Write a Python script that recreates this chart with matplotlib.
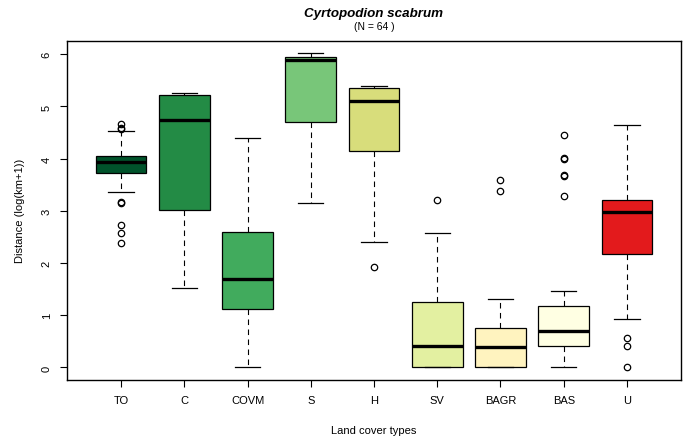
import matplotlib
matplotlib.use("Agg")
import matplotlib.pyplot as plt

plt.rcParams['font.family'] = ['Liberation Sans', 'DejaVu Sans']

categories = ["TO", "C", "COVM", "S", "H", "SV", "BAGR", "BAS", "U"]
whislo = [3.37, 1.53, 0.00, 3.15, 2.41, 0.00, 0.00, 0.00, 0.92]
q1     = [3.72, 3.02, 1.12, 4.71, 4.14, 0.00, 0.00, 0.41, 2.18]
med    = [3.93, 4.74, 1.69, 5.89, 5.11, 0.41, 0.40, 0.70, 2.97]
q3     = [4.05, 5.22, 2.60, 5.94, 5.36, 1.25, 0.75, 1.17, 3.21]
whishi = [4.53, 5.26, 4.39, 6.02, 5.40, 2.58, 1.31, 1.47, 4.65]
outliers = [
    [4.66, 4.58, 4.56, 3.17, 3.15, 2.72, 2.57, 2.39],
    [],
    [],
    [],
    [1.92],
    [3.20],
    [3.59, 3.39],
    [4.46, 4.01, 3.99, 3.69, 3.67, 3.29],
    [0.56, 0.42, 0.00],
]
colors = ["#00532b", "#238b45", "#41ab5d", "#78c679", "#d8dd7b",
          "#e3f0a1", "#fff3bf", "#ffffe3", "#e31a1c"]
yticks = [0, 1, 2, 3, 4, 5, 6]

fig = plt.figure(figsize=(6.89, 4.39), dpi=100)
ax = fig.add_axes([67/689, 1-381/439, (681-67)/689, (381-41.7)/439])

stats = []
for i, c in enumerate(categories):
    stats.append(dict(label=c, whislo=whislo[i], q1=q1[i], med=med[i],
                      q3=q3[i], whishi=whishi[i], fliers=outliers[i]))

pos = list(range(1, len(categories) + 1))
bp = ax.bxp(stats, positions=pos, widths=0.8, patch_artist=True,
            showfliers=True,
            boxprops=dict(linewidth=0.9, edgecolor='black'),
            medianprops=dict(color='black', linewidth=2.4, solid_capstyle='butt'),
            whiskerprops=dict(color='black', linewidth=0.8, linestyle=(0, (5, 4))),
            capprops=dict(color='black', linewidth=0.9),
            flierprops=dict(marker='o', markersize=4.6, markerfacecolor='none',
                            markeredgecolor='black', markeredgewidth=0.9,
                            linestyle='none'),
            capwidths=0.4)
for patch, col in zip(bp['boxes'], colors):
    patch.set_facecolor(col)

ax.set_xlim(0.146, 9.854)
ax.set_ylim(-0.24, 6.26)
ax.set_xticks(pos)
ax.set_xticklabels(categories, fontsize=8)
ax.set_yticks(yticks)
ax.set_yticklabels([str(t) for t in yticks], fontsize=8, rotation=90, va='center')
ax.tick_params(axis='both', direction='out', length=5, width=0.8, pad=6)
for s in ax.spines.values():
    s.set_linewidth(1.0)

ax.set_xlabel("Land cover types", fontsize=8, labelpad=14)
ax.set_ylabel("Distance (log(km+1))", fontsize=8, labelpad=12)

cx = (67 + 681) / 2 / 689
fig.text(cx, 1 - 14/439, "Cyrtopodion scabrum", fontsize=9.6, fontweight='bold',
         fontstyle='italic', ha='center', va='center')
fig.text(cx, 1 - 27/439, "(N = 64 )", fontsize=7.5, ha='center', va='center')

fig.savefig("out.png", dpi=100)
